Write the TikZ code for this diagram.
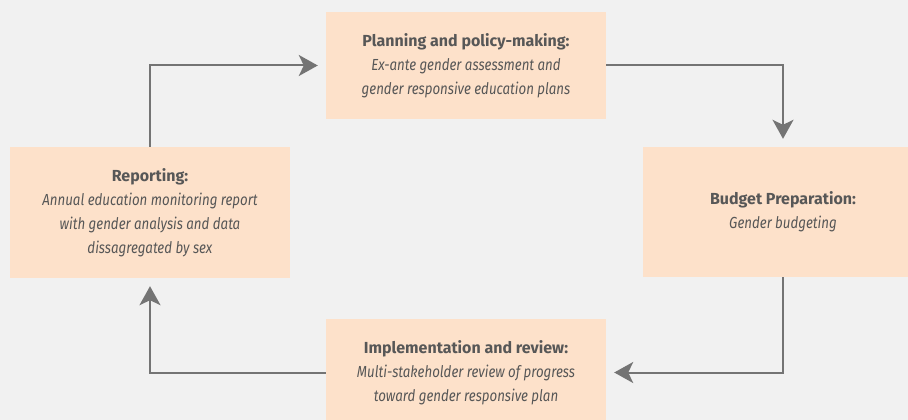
\documentclass[tikz,border=0pt]{standalone}
\usepackage{fontspec}
\setmainfont{Fira Sans}[
    BoldFeatures={FakeStretch=1.0},
    ItalicFeatures={FakeStretch=0.83}]
\usetikzlibrary{arrows.meta}

\definecolor{pagebg}{HTML}{F1F1F1}
\definecolor{boxfill}{HTML}{FDE1CA}
\definecolor{boxtext}{HTML}{575757}
\definecolor{flowgray}{HTML}{747474}

\begin{document}
\begin{tikzpicture}[x=1pt,y=-1pt,
        stage/.style={fill=boxfill,text=boxtext,align=center,inner sep=0pt,
            minimum width=280pt,font=\fontsize{16}{24}\selectfont},
        flow/.style={draw=flowgray,line width=2pt,shorten >=8pt,
            -{Stealth[length=19pt,width=21pt,inset=5pt]}}]

        \fill[pagebg] (0,0) rectangle (908,420);
        \useasboundingbox (0,0) rectangle (908,420);
        \clip (0,0) rectangle (908,420);

        % the four stages of the cycle
        \node[stage,minimum height=107pt] (plan) at (466,65.5)
            {\textbf{Planning and policy-making:}\\
             \textit{Ex-ante gender assessment and}\\
             \textit{gender responsive education plans}};
        \node[stage,minimum height=130pt] (budget) at (783,212)
            {\textbf{Budget Preparation:}\\
             \textit{Gender budgeting}};
        \node[stage,minimum height=107pt] (review) at (466,372.5)
            {\textbf{Implementation and review:}\\
             \textit{Multi-stakeholder review of progress}\\
             \textit{toward gender responsive plan}};
        \node[stage,minimum height=131pt] (report) at (150,212.5)
            {\textbf{Reporting:}\\
             \textit{Annual education monitoring report}\\
             \textit{with gender analysis and data}\\
             \textit{dissagregated by sex}};

        % connectors
        \draw[flow] (plan.east) -| (budget.north);
        \draw[flow] (budget.south) |- (review.east);
        \draw[flow] (review.west) -| (report.south);
        \draw[flow] (report.north) |- (plan.west);

    \end{tikzpicture}
\end{document}
